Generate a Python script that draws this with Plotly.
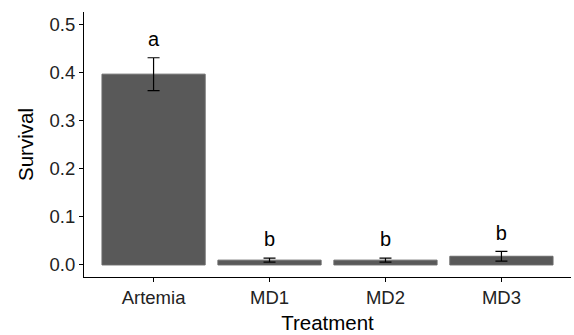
import plotly.graph_objects as go

treatments = ["Artemia", "MD1", "MD2", "MD3"]
survival = [0.396, 0.010, 0.010, 0.018]
se = [0.034, 0.004, 0.004, 0.010]
letters = ["a", "b", "b", "b"]
y_ticks = [0.0, 0.1, 0.2, 0.3, 0.4, 0.5]

FONT = "Liberation Sans, Arial, sans-serif"

fig = go.Figure()
fig.add_trace(go.Bar(
    x=treatments, y=survival, width=0.89,
    marker=dict(color="#595959", line=dict(color="#6a6a6a", width=1)),
    error_y=dict(type="data", array=se, visible=True, color="black",
                 thickness=1.2, width=6),
    showlegend=False,
))
fig.add_trace(go.Scatter(
    x=treatments, y=[m + s + 0.035 for m, s in zip(survival, se)],
    mode="text", text=letters,
    textfont=dict(family=FONT, size=20, color="black"),
    showlegend=False,
))

fig.update_layout(
    width=574, height=335,
    margin=dict(l=84, r=3, t=12, b=58),
    plot_bgcolor="white", paper_bgcolor="white",
    font=dict(family=FONT, color="black"),
    xaxis=dict(
        range=[-0.6, 3.6], showline=True, linecolor="black", linewidth=1,
        ticks="outside", ticklen=4, tickcolor="black",
        tickfont=dict(size=18.5, color="#222"),
        title=dict(text="Treatment", font=dict(size=20.5), standoff=8),
        showgrid=False, zeroline=False,
    ),
    yaxis=dict(
        range=[-0.025, 0.525], showline=True, linecolor="black", linewidth=1,
        ticks="outside", ticklen=4, tickcolor="black",
        tickvals=y_ticks, ticktext=[f"{v:.1f}" for v in y_ticks],
        tickfont=dict(size=18.5, color="#222"),
        title=dict(text="Survival", font=dict(size=20.5), standoff=10),
        showgrid=False, zeroline=False,
    ),
)

fig.write_html("out.html")
